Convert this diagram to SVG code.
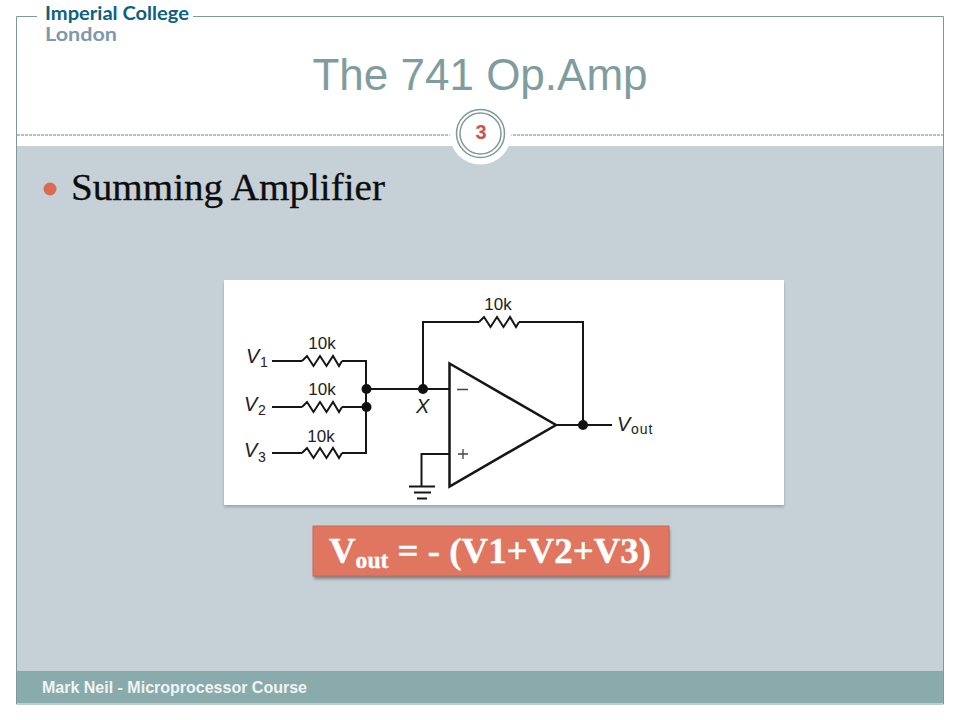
<svg xmlns="http://www.w3.org/2000/svg" width="960" height="720" viewBox="0 0 960 720">
<defs>
<style>
.w{fill:none;stroke:#161616;stroke-width:2;stroke-linejoin:miter}
.d{fill:#111}
.c{font-family:"Liberation Sans",Arial,sans-serif;fill:#222}
.v{font-size:20px;font-style:italic}
.s{font-size:14px}
.r{font-size:17px;text-anchor:middle}
</style>
<filter id="sh" x="-5%" y="-20%" width="110%" height="140%"><feGaussianBlur stdDeviation="1.6"/></filter>
<path id="res" d="M0 0L5-5 11.500 5 18-5 24.500 5 31-5 37 5 40 0" fill="none" stroke="#161616" stroke-width="2"/>
</defs>
<rect width="960" height="720" fill="#fff"/>
<g id="slide">
<rect x="17" y="146" width="926" height="525" fill="#c5d0d7"/>
<rect x="17" y="671" width="926" height="32" fill="#8aabab"/>
<path d="M16.500 16.500V704H943.500V16.500Z" fill="none" stroke="#7f9a9b" stroke-width="1"/>
<rect x="37" y="10" width="156" height="12" fill="#fff"/>
<path d="M17 135H943" stroke="#6f8082" stroke-width="1" stroke-dasharray="3 1"/>
</g>
<g id="logo">
<text x="45" y="20" font-family="Lato,'Open Sans',sans-serif" font-size="19.500" font-weight="700" fill="#0f5f80" textLength="144" lengthAdjust="spacingAndGlyphs">Imperial College</text>
<text x="45" y="41" font-family="Lato,'Open Sans',sans-serif" font-size="19.500" font-weight="700" fill="#7f97ae" textLength="72" lengthAdjust="spacingAndGlyphs">London</text>
</g>
<g id="title">
<text x="480" y="90" text-anchor="middle" font-family="'Liberation Sans',Arial,sans-serif" font-size="44" fill="#7f9d9e">The 741 Op.Amp</text>
</g>
<g id="page-number">
<circle cx="480.500" cy="133.500" r="31" fill="#fff"/>
<circle cx="480.500" cy="133.500" r="24" fill="none" stroke="#7f9a9b" stroke-width="1.500"/>
<circle cx="480.500" cy="133.500" r="20.500" fill="none" stroke="#7f9a9b" stroke-width="1.500"/>
<text x="481" y="139" text-anchor="middle" font-family="'Liberation Sans',Arial,sans-serif" font-size="20" font-weight="700" fill="#c9564a">3</text>
</g>
<g id="bullet">
<circle cx="50" cy="189" r="6.500" fill="#dd6a50"/>
<text x="71" y="200" font-family="'Liberation Serif','Times New Roman',serif" font-size="38" fill="#0d0d0d" stroke="#0d0d0d" stroke-width=".3" textLength="314" lengthAdjust="spacingAndGlyphs">Summing Amplifier</text>
</g>
<g id="circuit-image">
<rect x="224" y="283" width="560" height="224" fill="#7d8a92" opacity=".6" filter="url(#sh)"/>
<rect x="224" y="280" width="560" height="225" fill="#fff"/>
</g>
<g id="connectors">
<path class="w" d="M272 361H302"/>
<use href="#res" x="302" y="361"/>
<path class="w" d="M342 361H366V453H342"/>
<path class="w" d="M272 407H302"/>
<use href="#res" x="302" y="407"/>
<path class="w" d="M342 407H366"/>
<path class="w" d="M272 453H302"/>
<use href="#res" x="302" y="453"/>
<path class="w" d="M366 389H449"/>
<path class="w" d="M423 389V322H479"/>
<use href="#res" x="479" y="322"/>
<path class="w" d="M519 322H583V425"/>
<path class="w" d="M556 425H612"/>
<path class="w" d="M449 454H421.500V486"/>
<path class="w" d="M409 486.500H435M414 492.500H431M417 498.500H427"/>
</g>
<g id="opamp">
<path d="M449.500 363.500L556 425 449.500 486.500Z" fill="#fff" stroke="#161616" stroke-width="2.500"/>
<path d="M457 389.500H468M458 454H468M463 449V459" stroke="#444" stroke-width="1.300" fill="none"/>
</g>
<g id="junctions">
<circle class="d" cx="366.500" cy="389" r="5"/>
<circle class="d" cx="366.500" cy="407" r="5"/>
<circle class="d" cx="423" cy="389" r="5"/>
<circle class="d" cx="583" cy="425" r="5"/>
</g>
<g id="circuit-labels">
<text class="c r" x="322" y="349">10k</text>
<text class="c r" x="322" y="395">10k</text>
<text class="c r" x="321" y="442">10k</text>
<text class="c r" x="498" y="310">10k</text>
<text class="c v" x="246" y="363">V</text><text class="c s" x="260" y="367">1</text>
<text class="c v" x="244" y="411">V</text><text class="c s" x="258" y="415">2</text>
<text class="c v" x="244" y="457">V</text><text class="c s" x="258" y="462">3</text>
<text class="c v" x="416" y="413">X</text>
<text class="c v" x="617" y="431">V</text><text class="c s" x="631" y="434" letter-spacing="1">out</text>
</g>
<g id="equation">
<rect x="314" y="529" width="356" height="50" fill="#5b6a72" opacity=".7" filter="url(#sh)"/>
<rect x="313" y="526" width="356" height="50" fill="#e07560" stroke="#c96a55" stroke-width="1"/>
<text x="329" y="563" font-family="'Liberation Serif','Times New Roman',serif" font-weight="700" font-size="36" fill="#fff" stroke="#fff" stroke-width=".4" textLength="322" lengthAdjust="spacingAndGlyphs">V<tspan font-size="23" dy="5">out</tspan><tspan dy="-5"> = - (V1+V2+V3)</tspan></text>
</g>
<g id="footer">
<text x="42" y="693" font-family="'Liberation Sans',Arial,sans-serif" font-size="16" font-weight="700" fill="#f0f4f4">Mark Neil - Microprocessor Course</text>
</g>
</svg>
